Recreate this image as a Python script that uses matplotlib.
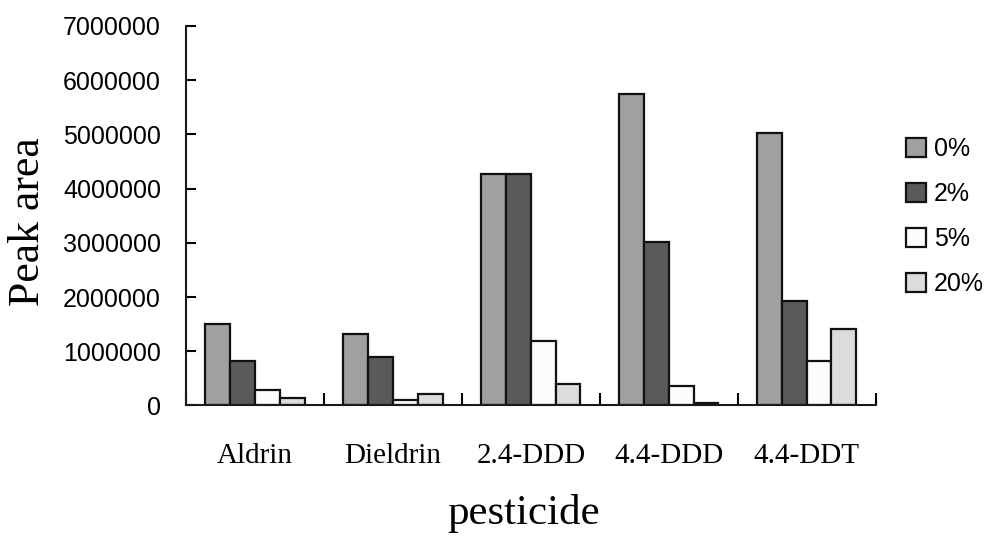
import numpy as np
import matplotlib
matplotlib.use("Agg")
import matplotlib.pyplot as plt

pesticides = ["Aldrin", "Dieldrin", "2.4-DDD", "4.4-DDD", "4.4-DDT"]
levels = ["0%", "2%", "5%", "20%"]
area_0 = [1500000, 1320000, 4270000, 5740000, 5020000]
area_2 = [820000, 890000, 4270000, 3010000, 1930000]
area_5 = [290000, 110000, 1190000, 365000, 820000]
area_20 = [140000, 210000, 390000, 40000, 1420000]
colors = ["#a0a0a0", "#5a5a5a", "#fcfcfc", "#dcdcdc"]

series = [area_0, area_2, area_5, area_20]

fig = plt.figure(figsize=(9.95, 5.36), dpi=100)
ax = fig.add_axes([0.187, 0.2435, 0.693, 0.708])

x = np.arange(len(pesticides))
w = 0.18
for i, vals in enumerate(series):
    ax.bar(x - 1.5 * w + i * w, vals, width=w, color=colors[i],
           edgecolor="#111111", linewidth=1.6, label=levels[i])

ax.set_xlim(-0.5, len(pesticides) - 0.5)
ax.set_ylim(0, 7000000)
ax.set_yticks(np.arange(0, 7000001, 1000000))
ax.set_yticklabels([str(v) for v in range(0, 7000001, 1000000)],
                   family="Liberation Sans", fontsize=18)
ax.tick_params(axis="y", direction="in", length=7, width=1.5, pad=18)

# group boundaries as major ticks, names on minor ticks at the centres
ax.set_xticks(np.arange(-0.5, len(pesticides)))
ax.set_xticklabels([])
ax.set_xticks(x, minor=True)
ax.set_xticklabels(pesticides, minor=True, family="Liberation Serif", fontsize=21)
ax.tick_params(axis="x", which="major", direction="in", length=9, width=1.5)
ax.tick_params(axis="x", which="minor", length=0, pad=27)

for s in ["top", "right"]:
    ax.spines[s].set_visible(False)
for s in ["left", "bottom"]:
    ax.spines[s].set_linewidth(1.5)
    ax.spines[s].set_color("#1a1a1a")

ax.set_xlabel("pesticide", family="Liberation Serif", fontsize=31)
ax.xaxis.set_label_coords(0.49, -0.233)
ax.set_ylabel("Peak area", family="Liberation Serif", fontsize=31.5)
ax.yaxis.set_label_coords(-0.2, 0.485)

leg = ax.legend(loc="upper left", bbox_to_anchor=(1.03, 0.734), frameon=False,
                prop={"family": "Liberation Sans", "size": 18},
                handlelength=0.8, handleheight=0.8, labelspacing=0.84,
                handletextpad=0.3, borderaxespad=0)

fig.savefig("out.png", dpi=100)
